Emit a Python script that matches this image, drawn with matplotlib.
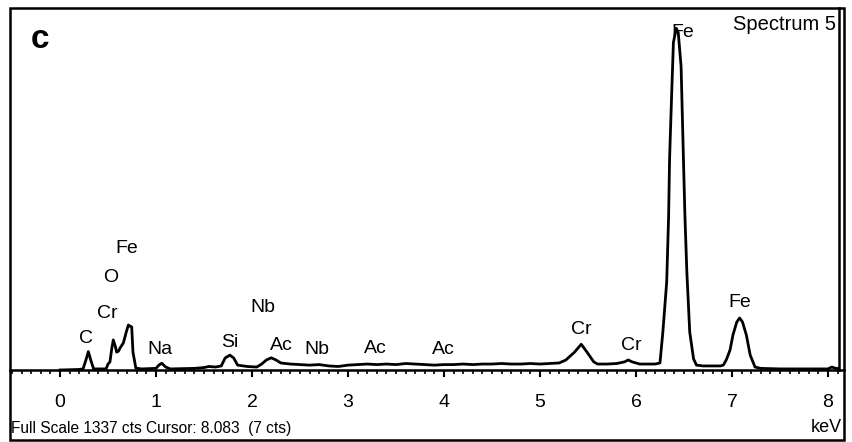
import matplotlib
matplotlib.use("Agg")
import matplotlib.pyplot as plt
from matplotlib.patches import Rectangle
from matplotlib.lines import Line2D
from matplotlib.ticker import MultipleLocator

plt.rcParams['font.family'] = ['Liberation Sans', 'DejaVu Sans']

# -----------------------------
# spectrum (keV, counts)
# -----------------------------
energy = [0.00, 0.20, 0.24, 0.27, 0.295, 0.32, 0.35, 0.48, 0.50, 0.52, 0.54, 0.555,
          0.575, 0.59, 0.61, 0.625, 0.66, 0.69, 0.712, 0.73, 0.747, 0.76, 0.79, 0.85,
          1.00, 1.03, 1.06, 1.10, 1.15, 1.40, 1.50, 1.55, 1.62, 1.68, 1.72, 1.77,
          1.81, 1.85, 1.95, 2.05, 2.10, 2.15, 2.20, 2.25, 2.30, 2.40, 2.50, 2.60,
          2.70, 2.80, 2.90, 3.00, 3.10, 3.20, 3.30, 3.40, 3.50, 3.60, 3.70, 3.80,
          3.90, 4.00, 4.10, 4.20, 4.30, 4.40, 4.50, 4.60, 4.70, 4.80, 4.90, 5.00,
          5.10, 5.20, 5.27, 5.36, 5.43, 5.49, 5.56, 5.60, 5.70, 5.80, 5.88, 5.92,
          5.96, 6.04, 6.20, 6.25, 6.28, 6.32, 6.34, 6.35, 6.37, 6.39, 6.42, 6.44,
          6.47, 6.49, 6.51, 6.53, 6.56, 6.60, 6.63, 6.70, 6.80, 6.88, 6.91, 6.94,
          6.98, 7.01, 7.05, 7.08, 7.11, 7.15, 7.19, 7.24, 7.30, 7.50, 7.80, 8.00,
          8.04, 8.08, 8.12]
counts = [0, 2, 4, 37, 68, 37, 4, 4, 22, 30, 81, 111,
          89, 66, 70, 81, 100, 140, 166, 162, 159, 66, 7, 4,
          6, 18, 25, 11, 4, 6, 9, 13, 11, 15, 44, 55,
          44, 18, 13, 11, 22, 37, 45, 37, 26, 22, 20, 18,
          20, 15, 13, 18, 20, 22, 20, 22, 20, 24, 22, 20,
          18, 20, 20, 22, 20, 22, 22, 24, 22, 22, 24, 22,
          24, 26, 37, 66, 95, 66, 30, 22, 22, 24, 30, 37,
          30, 22, 22, 26, 140, 325, 568, 779, 1000, 1210, 1262, 1247,
          1122, 841, 568, 362, 140, 41, 18, 15, 15, 15, 18, 37,
          74, 129, 177, 192, 177, 129, 55, 11, 6, 4, 4, 4,
          11, 6, 6]

# peak labels (text, keV, counts)
peak_names = ["C", "Cr", "O", "Fe", "Na", "Si", "Nb", "Ac", "Nb", "Ac", "Ac",
              "Cr", "Cr", "Fe", "Fe"]
peak_x = [0.27, 0.49, 0.53, 0.70, 1.04, 1.77, 2.11, 2.31, 2.68, 3.28, 3.99,
          5.43, 5.95, 6.49, 7.08]
peak_y = [118, 207, 340, 447, 74, 100, 229, 92, 74, 81, 74,
          148, 89, 1248, 251]

major_ticks = [0, 1, 2, 3, 4, 5, 6, 7, 8]
full_scale = 1337

W, H = 853, 442
fig = plt.figure(figsize=(W / 100, H / 100), dpi=100)

# plot area: from frame left to inner right line, axis line at y=370 px
ax = fig.add_axes([10 / W, (H - 370) / H, (839 - 10) / W, (370 - 8) / H])
ax.plot(energy, counts, color='black', lw=2.0)
ax.set_xlim(-0.521, 8.115)
ax.set_ylim(0, full_scale)

for s in ['top', 'left']:
    ax.spines[s].set_visible(False)
ax.spines['right'].set_linewidth(1.8)
ax.spines['bottom'].set_linewidth(1.8)

ax.set_xticks(major_ticks)
ax.xaxis.set_minor_locator(MultipleLocator(0.1))
ax.tick_params(axis='x', which='major', direction='out', length=5, width=1.5,
               labelsize=14, pad=12)
ax.tick_params(axis='x', which='minor', direction='out', length=2.8, width=1.2)
ax.set_yticks([])

for name, x, y in zip(peak_names, peak_x, peak_y):
    ax.text(x, y, name, ha='center', va='center', fontsize=14)

# outer frame
fig.add_artist(Rectangle((10 / W, 2 / H), (844 - 10) / W, (434 - 2) / H,
                         transform=fig.transFigure, fill=False,
                         edgecolor='black', lw=1.8))
fig.add_artist(Line2D([839 / W, 844 / W], [(H - 370) / H] * 2,
                      color='black', lw=1.8))

fig.text(40 / W, (H - 40) / H, "c", fontsize=24, fontweight='bold',
         ha='center', va='center')
fig.text(836 / W, (H - 25) / H, "Spectrum 5", fontsize=14.5,
         ha='right', va='center')
fig.text(11 / W, (H - 428) / H, "Full Scale 1337 cts Cursor: 8.083  (7 cts)",
         fontsize=11.2, ha='left', va='center')
fig.text(842 / W, (H - 428) / H, "keV", fontsize=13, ha='right', va='center')

fig.savefig("out.png", dpi=100)
